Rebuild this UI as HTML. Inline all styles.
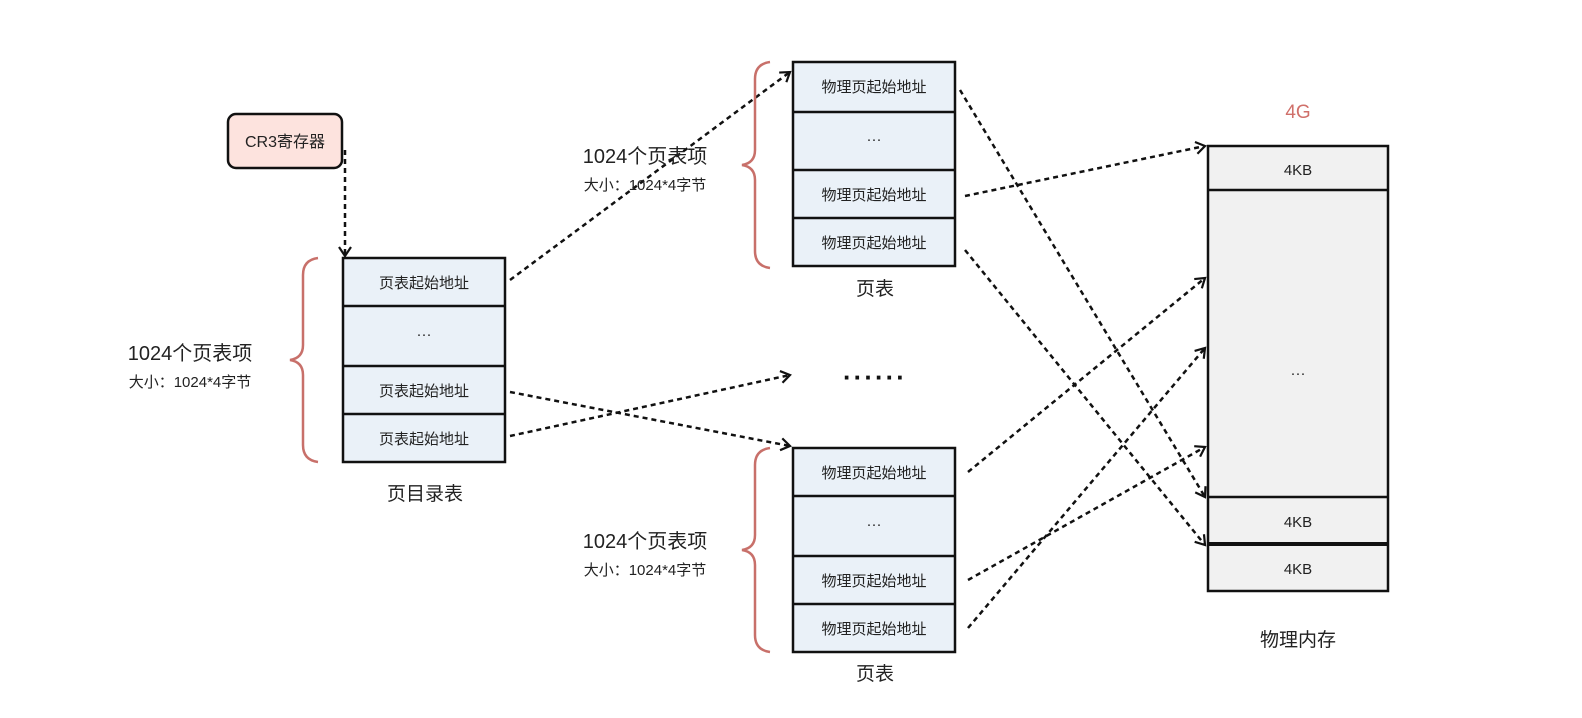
<!DOCTYPE html>
<html><head><meta charset="utf-8"><style>
body{margin:0;background:#fff;}
svg{display:block;font-family:"Liberation Sans","Noto Sans CJK SC",sans-serif;}
</style></head><body>
<svg width="1582" height="718" viewBox="0 0 1582 718" xmlns="http://www.w3.org/2000/svg">
<defs>
<marker id="a" markerWidth="14" markerHeight="14" refX="11" refY="7" orient="auto" markerUnits="userSpaceOnUse">
<path d="M2,1 L11,7 L2,13" fill="none" stroke="#111" stroke-width="2.2"/>
</marker>
</defs>
<rect width="1582" height="718" fill="#fff"/>
<!-- CR3 -->
<rect x="228" y="114" width="114" height="54" rx="8" fill="#fde3de" stroke="#111" stroke-width="2.5"/>
<text x="285" y="147" font-size="16" text-anchor="middle" fill="#222">CR3寄存器</text>
<g stroke="#111" stroke-width="2.5" stroke-dasharray="5,4" fill="none" marker-end="url(#a)">
<line x1="345" y1="150" x2="345" y2="256"/>
<line x1="510" y1="280" x2="790" y2="72"/>
<line x1="510" y1="392" x2="790" y2="446"/>
<line x1="510" y1="436" x2="790" y2="375"/>
<line x1="960" y1="90" x2="1205" y2="497"/>
<line x1="965" y1="196" x2="1205" y2="146"/>
<line x1="965" y1="250" x2="1205" y2="545"/>
<line x1="968" y1="472" x2="1205" y2="278"/>
<line x1="968" y1="580" x2="1205" y2="447"/>
<line x1="968" y1="628" x2="1205" y2="348"/>
</g>
<!-- page directory -->
<g stroke="#111" stroke-width="2.5" fill="#eaf1f8">
<rect x="343" y="258" width="162" height="204"/>
<line x1="343" y1="306" x2="505" y2="306"/>
<line x1="343" y1="366" x2="505" y2="366"/>
<line x1="343" y1="414" x2="505" y2="414"/>
</g>
<g font-size="15" fill="#222" text-anchor="middle">
<text x="424" y="288">页表起始地址</text>
<text x="424" y="339">···</text>
<text x="424" y="396">页表起始地址</text>
<text x="424" y="444">页表起始地址</text>
</g>
<text x="425" y="500" font-size="19" text-anchor="middle" fill="#222">页目录表</text>
<!-- braces -->
<g stroke="#c8706a" stroke-width="2.5" fill="none">
<path d="M318,258 Q303,260 303,275 L303,345 Q303,358 290,360 Q303,362 303,375 L303,445 Q303,460 318,462"/>
<path d="M770,62 Q755,64 755,79 L755,150 Q755,163 742,165 Q755,167 755,180 L755,251 Q755,266 770,268"/>
<path d="M770,448 Q755,450 755,465 L755,535 Q755,548 742,550 Q755,552 755,565 L755,635 Q755,650 770,652"/>
</g>
<g fill="#222" text-anchor="middle">
<text x="190" y="360" font-size="20">1024个页表项</text>
<text x="190" y="387" font-size="15">大小：1024*4字节</text>
<text x="645" y="163" font-size="20">1024个页表项</text>
<text x="645" y="190" font-size="15">大小：1024*4字节</text>
<text x="645" y="548" font-size="20">1024个页表项</text>
<text x="645" y="575" font-size="15">大小：1024*4字节</text>
</g>
<!-- top page table -->
<g stroke="#111" stroke-width="2.5" fill="#eaf1f8">
<rect x="793" y="62" width="162" height="204"/>
<line x1="793" y1="112" x2="955" y2="112"/>
<line x1="793" y1="170" x2="955" y2="170"/>
<line x1="793" y1="218" x2="955" y2="218"/>
<rect x="793" y="448" width="162" height="204"/>
<line x1="793" y1="496" x2="955" y2="496"/>
<line x1="793" y1="556" x2="955" y2="556"/>
<line x1="793" y1="604" x2="955" y2="604"/>
</g>
<g font-size="15" fill="#222" text-anchor="middle">
<text x="874" y="92">物理页起始地址</text>
<text x="874" y="144">···</text>
<text x="874" y="200">物理页起始地址</text>
<text x="874" y="248">物理页起始地址</text>
<text x="874" y="478">物理页起始地址</text>
<text x="874" y="529">···</text>
<text x="874" y="586">物理页起始地址</text>
<text x="874" y="634">物理页起始地址</text>
</g>
<text x="875" y="295" font-size="19" text-anchor="middle" fill="#222">页表</text>
<text x="875" y="680" font-size="19" text-anchor="middle" fill="#222">页表</text>
<text x="875" y="386" font-size="26" text-anchor="middle" fill="#111" font-weight="bold" letter-spacing="2">······</text>
<!-- memory -->
<g stroke="#111" stroke-width="2.5" fill="#f1f1f1">
<rect x="1208" y="146" width="180" height="445"/>
<line x1="1208" y1="190" x2="1388" y2="190"/>
<line x1="1208" y1="497" x2="1388" y2="497"/>
<line x1="1208" y1="544" x2="1388" y2="544" stroke-width="4"/>
</g>
<g font-size="15" fill="#222" text-anchor="middle">
<text x="1298" y="175">4KB</text>
<text x="1298" y="378">···</text>
<text x="1298" y="527">4KB</text>
<text x="1298" y="574">4KB</text>
</g>
<text x="1298" y="118" font-size="19" text-anchor="middle" fill="#d0706a">4G</text>
<text x="1298" y="646" font-size="19" text-anchor="middle" fill="#222">物理内存</text>
</svg>
</body></html>
